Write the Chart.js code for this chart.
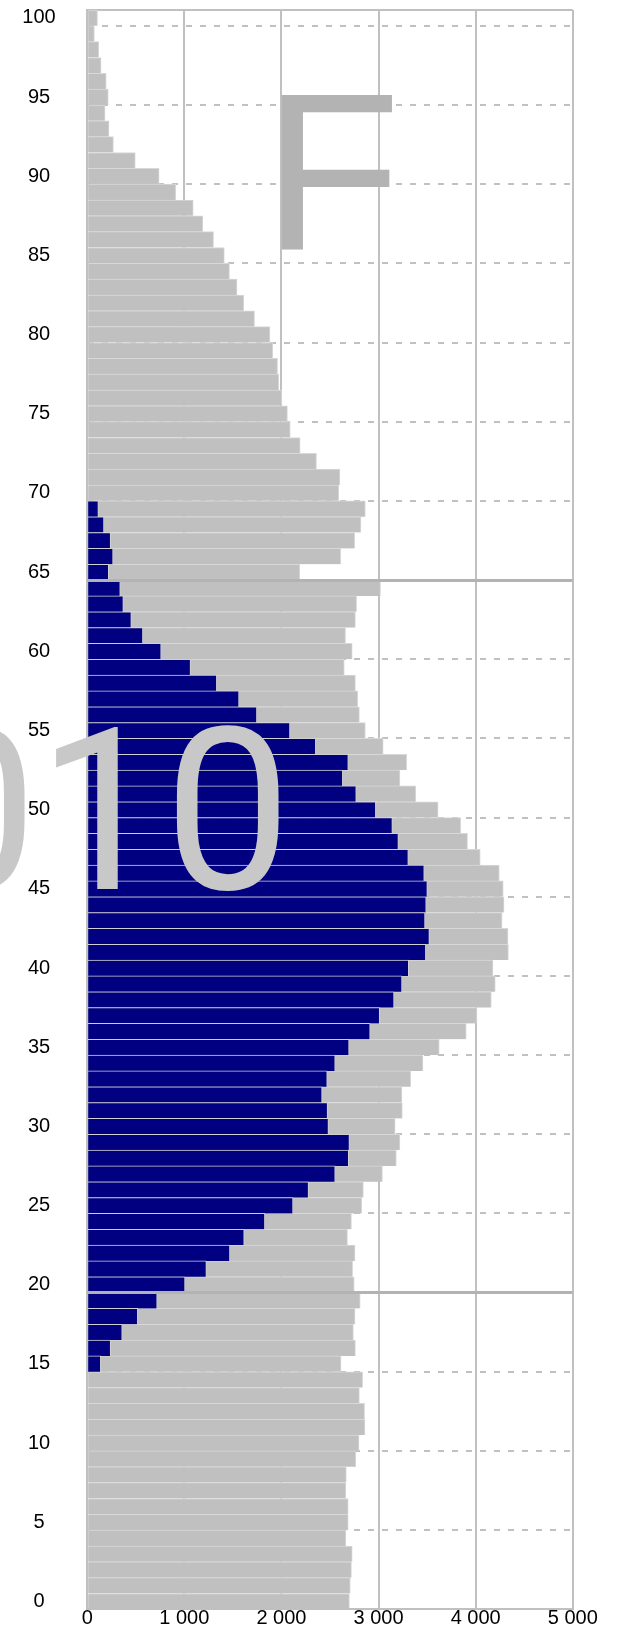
<!DOCTYPE html>
<html>
<head>
<meta charset="utf-8">
<script src="https://cdn.jsdelivr.net/npm/chart.js@4.4.1/dist/chart.umd.min.js"></script>
<style>
  html, body { margin: 0; padding: 0; background: #ffffff; overflow: hidden; }
  canvas { display: block; }
</style>
</head>
<body>
<canvas id="c" width="623" height="1631"></canvas>
<script>
// ---- data (ages from top to bottom) ----
const ages = [100, 99, 98, 97, 96, 95, 94, 93, 92, 91,
  90, 89, 88, 87, 86, 85, 84, 83, 82, 81,
  80, 79, 78, 77, 76, 75, 74, 73, 72, 71,
  70, 69, 68, 67, 66, 65, 64, 63, 62, 61,
  60, 59, 58, 57, 56, 55, 54, 53, 52, 51,
  50, 49, 48, 47, 46, 45, 44, 43, 42, 41,
  40, 39, 38, 37, 36, 35, 34, 33, 32, 31,
  30, 29, 28, 27, 26, 25, 24, 23, 22, 21,
  20, 19, 18, 17, 16, 15, 14, 13, 12, 11,
  10, 9, 8, 7, 6, 5, 4, 3, 2, 1,
  0];

// total female population by age
const totalF = [106, 74, 119, 143, 196, 217, 184, 225, 270, 495,
  741, 912, 1092, 1191, 1301, 1412, 1465, 1543, 1612, 1723,
  1882, 1911, 1960, 1972, 2005, 2062, 2091, 2193, 2361, 2602,
  2590, 2864, 2819, 2754, 2610, 2189, 3020, 2774, 2762, 2660,
  2729, 2647, 2762, 2786, 2803, 2864, 3048, 3290, 3220, 3384,
  3613, 3846, 3916, 4047, 4243, 4284, 4292, 4272, 4333, 4337,
  4178, 4202, 4161, 4014, 3903, 3625, 3457, 3331, 3241, 3245,
  3171, 3220, 3183, 3040, 2844, 2827, 2721, 2680, 2758, 2733,
  2750, 2811, 2758, 2741, 2762, 2614, 2836, 2803, 2856, 2860,
  2799, 2766, 2668, 2664, 2688, 2688, 2664, 2729, 2721, 2709,
  2700];

// active female population by age
const activeF = [null, null, null, null, null, null, null, null, null, null,
  null, null, null, null, null, null, null, null, null, null,
  null, null, null, null, null, null, null, null, null, null,
  null, 115, 172, 241, 266, 221, 340, 372, 454, 573,
  761, 1064, 1334, 1563, 1747, 2087, 2353, 2688, 2631, 2770,
  2971, 3142, 3204, 3306, 3470, 3502, 3490, 3478, 3523, 3486,
  3310, 3241, 3159, 3011, 2913, 2696, 2553, 2471, 2418, 2475,
  2484, 2700, 2692, 2553, 2279, 2119, 1829, 1616, 1469, 1227,
  1007, 720, 520, 360, 241, 139, null, null, null, null,
  null, null, null, null, null, null, null, null, null, null,
  null];

const xTickValues = [0, 1000, 2000, 3000, 4000, 5000];
const ageLabelStep = 5;
const bandAges = [65, 20];      // solid separators below these ages
const sexLabel = 'F';
const yearLabel = '2010';

// ---- helpers ----
const GRID = '#c0c0c0';
function fmt(v) { return String(v).replace(/\B(?=(\d{3})+(?!\d))/g, ' '); }
// grid line i of the category axis lies on the top edge of bar i (age ages[i])
function lineBelowAge(i) { return i > 0 && i < ages.length ? ages[i] + 1 : null; }
function isDashed(i) {
  const a = lineBelowAge(i);
  return a !== null && a % ageLabelStep === 0 && !bandAges.includes(a);
}
function isBand(i) {
  const a = lineBelowAge(i);
  return a !== null && bandAges.includes(a);
}

const overlayText = {
  id: 'overlayText',
  afterDraw(chart) {
    const {ctx, chartArea: ca} = chart;
    const w = ca.right - ca.left, h = ca.bottom - ca.top;
    ctx.save();
    ctx.textAlign = 'left';
    ctx.textBaseline = 'alphabetic';
    ctx.font = '225px "Liberation Sans", Arial, sans-serif';
    ctx.fillStyle = '#b3b3b3';
    ctx.fillText(sexLabel, ca.left + w * 0.3628, ca.top + h * 0.1502);
    ctx.font = '226px Roboto, "Liberation Sans", sans-serif';
    ctx.fillStyle = '#c8c8c8';
    ctx.fillText(yearLabel, ca.left - w * 0.6262, ca.top + h * 0.5497);
    ctx.restore();
  }
};

Chart.defaults.font.family = '"Liberation Sans", Arial, sans-serif';
Chart.defaults.color = '#000000';

new Chart(document.getElementById('c'), {
  type: 'bar',
  data: {
    labels: ages,
    datasets: [
      {
        label: 'Actives',
        data: activeF,
        backgroundColor: '#000080',
        borderColor: '#d0d0d0',
        borderWidth: {top: 1, right: 1, bottom: 0, left: 0},
        grouped: false,
        barPercentage: 1,
        categoryPercentage: 1,
        xAxisID: 'x',
        yAxisID: 'y'
      },
      {
        label: 'Total',
        data: totalF,
        backgroundColor: '#c0c0c0',
        borderColor: '#d8d8d8',
        borderWidth: {top: 1, right: 1, bottom: 0, left: 0},
        grouped: false,
        barPercentage: 1,
        categoryPercentage: 1,
        xAxisID: 'x',
        yAxisID: 'y'
      }
    ]
  },
  options: {
    indexAxis: 'y',
    responsive: false,
    animation: false,
    events: [],
    layout: { padding: { top: 10, right: 50.2, bottom: 0, left: 0 } },
    plugins: { legend: { display: false }, tooltip: { enabled: false }, title: { display: false } },
    scales: {
      x: {
        type: 'linear',
        position: 'bottom',
        min: 0,
        max: 5000,
        afterBuildTicks: (s) => { s.ticks = xTickValues.map(v => ({value: v})); },
        afterFit: (s) => { s.height = 21.7; },
        ticks: {
          padding: 0,
          font: { size: 20, lineHeight: 0.9 },
          color: '#000000',
          maxRotation: 0,
          callback: (v) => fmt(v)
        },
        grid: { color: GRID, lineWidth: 2, drawTicks: false },
        border: { display: true, color: GRID, width: 2, z: 1 }
      },
      y: {
        type: 'category',
        position: 'left',
        offset: true,
        afterFit: (s) => { s.width = 87.2; s.paddingTop = 0; s.paddingBottom = 0; },
        ticks: {
          autoSkip: false,
          crossAlign: 'center',
          padding: 31.5,
          font: { size: 20 },
          color: '#000000',
          callback: function (val, idx) {
            const a = ages[idx];
            return a % ageLabelStep === 0 ? String(a) : '';
          }
        },
        grid: {
          offset: true,
          drawTicks: false,
          color: GRID,
          lineWidth: (c) => (c.index === 0 || isDashed(c.index)) ? 2 : 0
        },
        border: {
          display: true, color: GRID, width: 2, z: 1,
          dash: (c) => isDashed(c.index) ? [6, 8] : []
        }
      },
      yBand: {
        type: 'category',
        position: 'left',
        offset: true,
        afterFit: (s) => { s.width = 0; s.paddingTop = 0; s.paddingBottom = 0; },
        ticks: { display: false },
        grid: {
          offset: true,
          drawTicks: false,
          z: 1,
          color: '#b3b3b3',
          lineWidth: (c) => isBand(c.index) ? 3 : 0
        },
        border: { display: false }
      }
    }
  },
  plugins: [overlayText]
});
</script>
</body>
</html>
